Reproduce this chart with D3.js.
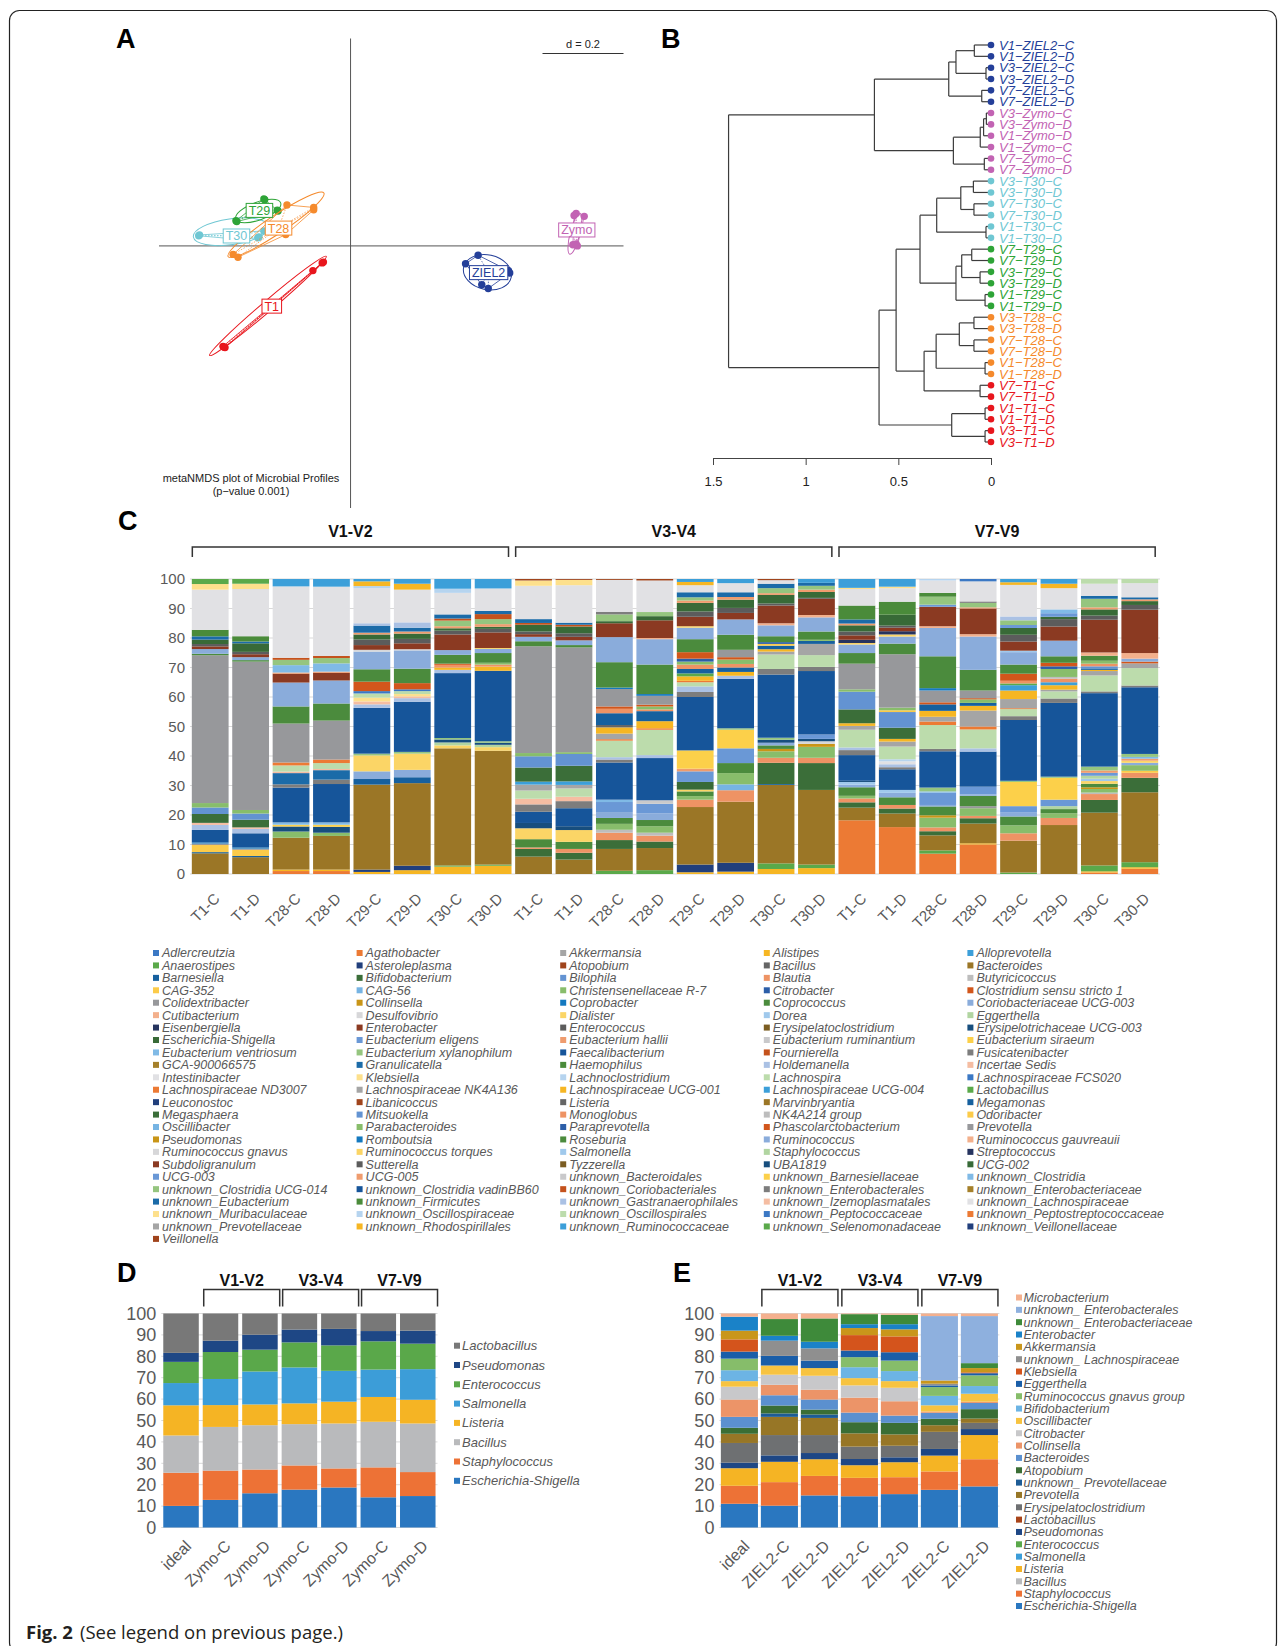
<!DOCTYPE html>
<html>
<head>
<meta charset="utf-8">
<script src="https://cdn.jsdelivr.net/npm/d3@7"></script>
<style>
body { margin: 0; background: #fff; }
text { font-family: "Liberation Sans", Arial, sans-serif; }
</style>
</head>
<body>
<svg id="fig" width="1287" height="1646"></svg>
<script>
//////////////////////////////////////////////////////////////////////////////
// Panel A: metaNMDS coordinates (one row per sample)

var nmdsT29   = [[-0.214,0.116],[-0.212,0.114],[-0.179,0.086],[-0.181,0.088],[-0.283,0.062],[-0.281,0.060]];
var nmdsT30   = [[-0.375,0.025],[-0.373,0.027],[-0.273,0.016],[-0.229,0.020],[-0.214,0.037],[-0.226,0.022]];
var nmdsT28   = [[-0.157,0.101],[-0.091,0.095],[-0.091,0.089],[-0.160,0.028],[-0.290,-0.021],[-0.278,-0.028]];
var nmdsT1    = [[-0.067,-0.040],[-0.093,-0.061],[-0.070,-0.042],[-0.310,-0.251],[-0.315,-0.248],[-0.312,-0.250]];
var nmdsZIEL2 = [[0.315,-0.023],[0.284,-0.044],[0.390,-0.061],[0.393,-0.067],[0.324,-0.096],[0.340,-0.105]];
var nmdsZymo  = [[0.557,0.080],[0.577,0.073],[0.552,0.075],[0.549,0.003],[0.557,0.005],[0.560,0.000]];

// ellipses: centre x, centre y, semi axis a, semi axis b, angle in degrees
var ellT29   = [-0.228, 0.086, 0.059, 0.022, 20];
var ellT30   = [-0.295, 0.035, 0.094, 0.032, 8];
var ellT28   = [-0.184, 0.052, 0.142, 0.022, 33.7];
var ellT1    = [-0.204, -0.148, 0.189, 0.013, 40.4];
var ellZIEL2 = [0.338, -0.065, 0.060, 0.043, -12];
var ellZymo  = [0.554, 0.030, 0.052, 0.012, 76];

var groupColor = {ZIEL2: "#243f99", Zymo: "#c263b3", T30: "#6fc7d3", T29: "#2ea437", T28: "#f58a2c", T1: "#e8161d"};

//////////////////////////////////////////////////////////////////////////////
// Panel B: hierarchical clustering, [height, left, right]

var treeB = [1.416,
  [0.629,
    [0.228, [0.189, [0.09, "V1-ZIEL2-C", "V1-ZIEL2-D"], [0.027, "V3-ZIEL2-C", "V3-ZIEL2-D"]], [0.05, "V7-ZIEL2-C", "V7-ZIEL2-D"]],
    [0.203, [0.058, [0.04, [0.025, "V3-Zymo-C", "V3-Zymo-D"], "V1-Zymo-D"], "V1-Zymo-C"], [0.036, "V7-Zymo-C", "V7-Zymo-D"]]],
  [0.604,
    [0.512,
      [0.383,
        [0.293, [0.163, [0.095, "V3-T30-C", "V3-T30-D"], [0.092, "V7-T30-C", "V7-T30-D"]], [0.027, "V1-T30-C", "V1-T30-D"]],
        [0.189, [0.158, [0.104, "V7-T29-C", "V7-T29-D"], [0.059, "V3-T29-C", "V3-T29-D"]], [0.032, "V1-T29-C", "V1-T29-D"]]],
      [0.361,
        [0.296, [0.171, [0.092, "V3-T28-C", "V3-T28-D"], [0.092, "V7-T28-C", "V7-T28-D"]], [0.032, "V1-T28-C", "V1-T28-D"]],
        [0.059, "V7-T1-C", "V7-T1-D"]]],
    [0.212, [0.032, "V1-T1-C", "V1-T1-D"], [0.032, "V3-T1-C", "V3-T1-D"]]]];
var ticksB = [1.5, 1, 0.5, 0];

//////////////////////////////////////////////////////////////////////////////
// Panel C: relative abundance (%), genus level

var taxaC = [
"Adlercreutzia","Agathobacter","Akkermansia","Alistipes","Alloprevotella",
"Anaerostipes","Asteroleplasma","Atopobium","Bacillus","Bacteroides",
"Barnesiella","Bifidobacterium","Bilophila","Blautia","Butyricicoccus",
"CAG-352","CAG-56","Christensenellaceae R-7","Citrobacter","Clostridium sensu stricto 1",
"Colidextribacter","Collinsella","Coprobacter","Coprococcus","Coriobacteriaceae UCG-003",
"Cutibacterium","Desulfovibrio","Dialister","Dorea","Eggerthella",
"Eisenbergiella","Enterobacter","Enterococcus","Erysipelatoclostridium","Erysipelotrichaceae UCG-003",
"Escherichia-Shigella","Eubacterium eligens","Eubacterium hallii","Eubacterium ruminantium","Eubacterium siraeum",
"Eubacterium ventriosum","Eubacterium xylanophilum","Faecalibacterium","Fournierella","Fusicatenibacter",
"GCA-900066575","Granulicatella","Haemophilus","Holdemanella","Incertae Sedis",
"Intestinibacter","Klebsiella","Lachnoclostridium","Lachnospira","Lachnospiraceae FCS020",
"Lachnospiraceae ND3007","Lachnospiraceae NK4A136","Lachnospiraceae UCG-001","Lachnospiraceae UCG-004","Lactobacillus",
"Leuconostoc","Libanicoccus","Listeria","Marvinbryantia","Megamonas",
"Megasphaera","Mitsuokella","Monoglobus","NK4A214 group","Odoribacter",
"Oscillibacter","Parabacteroides","Paraprevotella","Phascolarctobacterium","Prevotella",
"Pseudomonas","Romboutsia","Roseburia","Ruminococcus","Ruminococcus gauvreauii",
"Ruminococcus gnavus","Ruminococcus torques","Salmonella","Staphylococcus","Streptococcus",
"Subdoligranulum","Sutterella","Tyzzerella","UBA1819","UCG-002",
"UCG-003","UCG-005","unknown_Bacteroidales","unknown_Barnesiellaceae","unknown_Clostridia",
"unknown_Clostridia UCG-014","unknown_Clostridia vadinBB60","unknown_Coriobacteriales","unknown_Enterobacterales","unknown_Enterobacteriaceae",
"unknown_Eubacterium","unknown_Firmicutes","unknown_Gastranaerophilales","unknown_Izemoplasmatales","unknown_Lachnospiraceae",
"unknown_Muribaculaceae","unknown_Oscillospiraceae","unknown_Oscillospirales","unknown_Peptococcaceae","unknown_Peptostreptococcaceae",
"unknown_Prevotellaceae","unknown_Rhodospirillales","unknown_Ruminococcaceae","unknown_Selenomonadaceae","unknown_Veillonellaceae",
"Veillonella"];

// spreadsheet series colours, repeating every 54 series
var paletteC = [
"#3b78c4","#ec7a34","#a5a5a5","#f6b623","#3c9fd9","#5aa94a","#213f7c","#a0441c","#656565","#9b7626",
"#16609e","#3b6e39","#6393d2","#ee9364","#bdbdbd","#fccb49","#76b4e3","#88bd6b","#2c5ea8","#d2561b",
"#97989b","#c99517","#1479bf","#4b8b3d","#8aacdb","#f3b08c","#d7d7d9","#fbd566","#a0c9ec","#b1d5a1",
"#26345f","#8b3a22","#5c5c5c","#7b5d22","#174e7e","#386a37","#6a98d6","#ef9c6e","#c9c9cb","#fcd04a",
"#80bae6","#95c57f","#16559a","#c4521c","#7d7d7d","#a5802a","#1b6ba8","#4a8b3a","#aac1e4","#f5bda2",
"#e1e1e4","#fde08c","#b6d4ef","#bcdcac"];

var samplesC = ["T1-C","T1-D","T28-C","T28-D","T29-C","T29-D","T30-C","T30-D"];
var regions = ["V1-V2","V3-V4","V7-V9"];

var compV1V2 = [
 {"Bacteroides":7.0,"Barnesiella":0.4,"CAG-352":2.4,"Colidextribacter":0.5,"Coprobacter":0.4,"Faecalibacterium":4.2,"Holdemanella":1.7,"Incertae Sedis":0.7,"Megasphaera":3.0,"Mitsuokella":2.2,"Parabacteroides":1.5,"Prevotella":50.0,"Roseburia":0.5,"Ruminococcus":1.6,"Subdoligranulum":0.9,"Sutterella":0.8,"UCG-002":1.5,"unknown_Eubacterium":1.1,"unknown_Firmicutes":2.2,"unknown_Lachnospiraceae":13.6,"unknown_Muribaculaceae":1.9,"unknown_Selenomonadaceae":1.7},
 {"Bacteroides":5.7,"Barnesiella":0.4,"CAG-352":2.1,"Colidextribacter":0.4,"Coprobacter":0.4,"Faecalibacterium":4.8,"Holdemanella":1.5,"Incertae Sedis":0.5,"Megasphaera":2.6,"Mitsuokella":2.1,"Parabacteroides":1.2,"Prevotella":50.3,"Roseburia":0.5,"Ruminococcus":1.0,"Subdoligranulum":1.0,"Sutterella":0.8,"UCG-002":2.9,"unknown_Eubacterium":0.6,"unknown_Firmicutes":1.8,"unknown_Lachnospiraceae":16.0,"unknown_Muribaculaceae":1.8,"unknown_Selenomonadaceae":1.6},
 {"Agathobacter":1.0,"Alistipes":0.5,"Bacteroides":10.8,"Christensenellaceae R-7":2.1,"Erysipelotrichaceae UCG-003":1.7,"Eubacterium siraeum":0.6,"Eubacterium ventriosum":0.8,"Faecalibacterium":11.8,"Fusicatenibacter":1.1,"Granulicatella":3.8,"Incertae Sedis":0.5,"Lachnospira":2.1,"Lachnospiraceae ND3007":1.0,"Prevotella":13.2,"Roseburia":5.8,"Ruminococcus":8.1,"Subdoligranulum":3.0,"UCG-005":0.4,"unknown_Clostridia":2.5,"unknown_Clostridia UCG-014":1.8,"unknown_Coriobacteriales":0.7,"unknown_Lachnospiraceae":24.2,"unknown_Ruminococcaceae":2.5},
 {"Agathobacter":1.0,"Alistipes":0.5,"Bacteroides":11.4,"Christensenellaceae R-7":1.1,"Erysipelotrichaceae UCG-003":2.0,"Eubacterium siraeum":0.7,"Eubacterium ventriosum":0.8,"Faecalibacterium":13.0,"Fusicatenibacter":1.5,"Granulicatella":3.2,"Incertae Sedis":0.4,"Lachnospira":2.0,"Lachnospiraceae ND3007":1.2,"Prevotella":13.2,"Roseburia":5.8,"Ruminococcus":7.8,"Subdoligranulum":2.6,"UCG-005":0.4,"unknown_Clostridia":2.8,"unknown_Clostridia UCG-014":1.8,"unknown_Coriobacteriales":0.7,"unknown_Lachnospiraceae":23.5,"unknown_Ruminococcaceae":2.6},
 {"Alistipes":0.7,"Asteroleplasma":0.8,"Bacteroides":28.8,"Barnesiella":1.9,"Coriobacteriaceae UCG-003":2.6,"Dialister":5.4,"Eubacterium xylanophilum":0.6,"Faecalibacterium":15.5,"Holdemanella":1.2,"Incertae Sedis":1.0,"Klebsiella":1.3,"Lachnospira":1.4,"Lachnospiraceae FCS020":0.8,"Phascolarctobacterium":3.2,"Roseburia":4.2,"Ruminococcus":6.0,"Ruminococcus gnavus":0.6,"Subdoligranulum":1.6,"Sutterella":1.9,"UCG-002":1.7,"UCG-005":0.6,"unknown_Eubacterium":2.4,"unknown_Gastranaerophilales":0.8,"unknown_Lachnospiraceae":11.9,"unknown_Oscillospiraceae":0.7,"unknown_Rhodospirillales":1.6,"unknown_Ruminococcaceae":0.8},
 {"Alistipes":1.3,"Asteroleplasma":1.5,"Bacteroides":28.0,"Barnesiella":2.0,"Coriobacteriaceae UCG-003":2.5,"Dialister":5.5,"Eubacterium xylanophilum":0.6,"Faecalibacterium":17.0,"Holdemanella":1.2,"Incertae Sedis":0.6,"Klebsiella":0.8,"Lachnospira":1.0,"Lachnospiraceae FCS020":0.6,"Phascolarctobacterium":2.1,"Roseburia":4.9,"Ruminococcus":6.2,"Ruminococcus gnavus":0.4,"Subdoligranulum":2.0,"Sutterella":1.5,"UCG-002":1.8,"UCG-005":0.7,"unknown_Eubacterium":1.3,"unknown_Gastranaerophilales":1.8,"unknown_Lachnospiraceae":11.1,"unknown_Rhodospirillales":2.0,"unknown_Ruminococcaceae":1.6},
 {"Alistipes":2.5,"Anaerostipes":0.4,"Bacteroides":39.7,"Dialister":1.0,"Eggerthella":1.0,"Erysipelotrichaceae UCG-003":1.0,"Eubacterium xylanophilum":0.5,"Faecalibacterium":22.0,"Holdemanella":1.1,"Lachnospiraceae UCG-001":0.8,"Monoglobus":0.9,"Phascolarctobacterium":0.4,"Roseburia":3.0,"Ruminococcus":1.6,"Subdoligranulum":5.3,"Sutterella":1.3,"UCG-002":0.8,"UCG-005":0.7,"unknown_Clostridia UCG-014":1.9,"unknown_Coriobacteriales":0.7,"unknown_Eubacterium":1.4,"unknown_Lachnospiraceae":7.3,"unknown_Oscillospiraceae":1.4,"unknown_Ruminococcaceae":3.3},
 {"Alistipes":2.8,"Anaerostipes":0.4,"Bacteroides":38.6,"Dialister":1.2,"Eggerthella":0.8,"Erysipelotrichaceae UCG-003":0.7,"Eubacterium xylanophilum":0.5,"Faecalibacterium":23.9,"Lachnospiraceae UCG-001":1.4,"Monoglobus":0.7,"Parabacteroides":0.6,"Roseburia":3.3,"Ruminococcus":1.4,"Ruminococcus torques":0.3,"Subdoligranulum":5.3,"Sutterella":1.2,"UCG-002":0.7,"UCG-005":0.9,"unknown_Clostridia UCG-014":1.7,"unknown_Coriobacteriales":1.7,"unknown_Eubacterium":1.1,"unknown_Lachnospiraceae":7.6,"unknown_Ruminococcaceae":3.2}
];

var compV3V4 = [
 {"Bacteroides":5.9,"Bifidobacterium":2.6,"Blautia":0.5,"Coprococcus":2.8,"Dialister":3.7,"Erysipelotrichaceae UCG-003":1.8,"Faecalibacterium":3.8,"Fusicatenibacter":2.5,"Incertae Sedis":1.9,"Lachnospira":2.8,"Lachnospiraceae NK4A136":2.0,"Lachnospiraceae UCG-004":1.0,"Megasphaera":4.8,"Mitsuokella":3.8,"Parabacteroides":1.1,"Prevotella":36.2,"Roseburia":1.7,"Ruminococcus":1.5,"Subdoligranulum":0.9,"Sutterella":0.9,"UCG-002":2.3,"unknown_Coriobacteriales":0.6,"unknown_Eubacterium":1.3,"unknown_Lachnospiraceae":11.3,"unknown_Muribaculaceae":1.8,"Veillonella":0.5},
 {"Bacteroides":4.9,"Bifidobacterium":2.3,"Blautia":1.3,"Coprococcus":2.4,"Dialister":4.0,"Erysipelotrichaceae UCG-003":1.3,"Faecalibacterium":6.1,"Fusicatenibacter":2.4,"Incertae Sedis":1.5,"Lachnospira":2.8,"Lachnospiraceae NK4A136":1.2,"Lachnospiraceae UCG-004":1.2,"Megasphaera":5.3,"Mitsuokella":4.0,"Parabacteroides":0.6,"Prevotella":35.5,"Roseburia":0.8,"Ruminococcus":1.6,"Subdoligranulum":1.2,"Sutterella":1.2,"UCG-002":2.3,"unknown_Coriobacteriales":0.6,"unknown_Eubacterium":0.7,"unknown_Lachnospiraceae":12.7,"unknown_Muribaculaceae":1.8,"Veillonella":0.3},
 {"Anaerostipes":1.1,"Bacteroides":7.4,"Bifidobacterium":3.0,"Blautia":2.5,"Butyricicoccus":1.0,"Christensenellaceae R-7":2.0,"Coprococcus":2.0,"Coriobacteriaceae UCG-003":2.0,"Eubacterium eligens":3.4,"Eubacterium ventriosum":0.8,"Faecalibacterium":12.6,"Fusicatenibacter":1.0,"Holdemanella":0.8,"Lachnospira":5.6,"Lachnospiraceae ND3007":0.5,"Lachnospiraceae NK4A136":1.9,"Lachnospiraceae UCG-001":2.1,"Listeria":0.8,"Megamonas":4.0,"Monoglobus":1.5,"Phascolarctobacterium":0.8,"Prevotella":5.9,"Romboutsia":0.5,"Roseburia":8.6,"Ruminococcus":8.5,"Subdoligranulum":4.7,"UCG-002":0.7,"unknown_Clostridia UCG-014":2.3,"unknown_Enterobacterales":0.9,"unknown_Lachnospiraceae":10.8,"Veillonella":0.3},
 {"Anaerostipes":1.3,"Bacteroides":7.5,"Bifidobacterium":2.2,"Blautia":2.0,"Butyricicoccus":1.0,"Christensenellaceae R-7":2.2,"Coprococcus":2.1,"Coriobacteriaceae UCG-003":2.3,"Eubacterium eligens":3.2,"Eubacterium ruminantium":1.2,"Faecalibacterium":14.3,"Holdemanella":1.0,"Lachnospira":8.6,"Lachnospiraceae ND3007":0.5,"Lachnospiraceae UCG-001":2.4,"Megamonas":3.4,"Monoglobus":0.6,"Parabacteroides":1.0,"Phascolarctobacterium":0.6,"Prevotella":3.0,"Romboutsia":0.6,"Roseburia":10.0,"Ruminococcus":8.6,"Ruminococcus gauvreauii":0.4,"Subdoligranulum":6.0,"UCG-002":1.4,"unknown_Clostridia UCG-014":1.4,"unknown_Lachnospiraceae":10.7,"Veillonella":0.5},
 {"Alistipes":0.6,"Asteroleplasma":2.6,"Bacteroides":19.5,"Blautia":2.5,"Christensenellaceae R-7":1.2,"Coprococcus":1.6,"Dialister":0.6,"Escherichia-Shigella":2.6,"Eubacterium eligens":3.6,"Eubacterium hallii":0.9,"Eubacterium siraeum":6.2,"Faecalibacterium":18.1,"Fusicatenibacter":1.7,"Holdemanella":1.9,"Lachnospira":1.4,"Lachnospiraceae ND3007":0.5,"Lachnospiraceae UCG-001":1.5,"Lactobacillus":1.0,"Megamonas":1.5,"Monoglobus":1.5,"Parabacteroides":1.0,"Paraprevotella":1.0,"Phascolarctobacterium":2.2,"Roseburia":4.4,"Ruminococcus":3.9,"Ruminococcus torques":0.5,"Subdoligranulum":3.2,"Sutterella":1.8,"UCG-002":2.9,"UCG-005":0.8,"unknown_Clostridia UCG-014":1.1,"unknown_Eubacterium":1.7,"unknown_Lachnospiraceae":2.4,"unknown_Rhodospirillales":1.1,"unknown_Ruminococcaceae":1.0},
 {"Alistipes":0.8,"Asteroleplasma":3.0,"Bacteroides":20.7,"Blautia":3.9,"CAG-56":2.0,"Christensenellaceae R-7":3.8,"Coprococcus":3.4,"Eubacterium eligens":5.0,"Eubacterium siraeum":6.3,"Eubacterium xylanophilum":0.5,"Faecalibacterium":16.8,"Holdemanella":1.0,"Lachnospiraceae UCG-001":1.3,"Megamonas":1.5,"Monoglobus":1.2,"Parabacteroides":1.5,"Phascolarctobacterium":0.8,"Prevotella":2.5,"Roseburia":5.1,"Ruminococcus":5.2,"Subdoligranulum":2.2,"Sutterella":1.7,"UCG-002":2.8,"UCG-005":0.9,"unknown_Eubacterium":1.6,"unknown_Lachnospiraceae":3.1,"unknown_Ruminococcaceae":1.4},
 {"Alistipes":1.7,"Anaerostipes":1.9,"Bacteroides":26.6,"Barnesiella":0.3,"Bifidobacterium":7.2,"Blautia":1.7,"Christensenellaceae R-7":2.2,"Collinsella":0.8,"Coprococcus":1.2,"Coriobacteriaceae UCG-003":0.9,"Erysipelotrichaceae UCG-003":1.0,"Eubacterium xylanophilum":0.7,"Faecalibacterium":21.4,"Fusicatenibacter":1.9,"Lachnospira":4.9,"Lachnospiraceae NK4A136":1.0,"Lachnospiraceae UCG-001":0.8,"Megamonas":1.2,"Odoribacter":0.6,"Paraprevotella":0.6,"Roseburia":2.0,"Ruminococcus":3.7,"Ruminococcus gauvreauii":0.7,"Subdoligranulum":6.0,"Sutterella":0.7,"UCG-002":2.9,"UCG-005":0.6,"unknown_Clostridia UCG-014":1.7,"unknown_Eubacterium":1.5,"unknown_Lachnospiraceae":1.2,"Veillonella":0.4},
 {"Alistipes":2.0,"Anaerostipes":1.2,"Bacteroides":25.3,"Bifidobacterium":9.1,"Blautia":1.8,"Christensenellaceae R-7":3.7,"Collinsella":1.0,"Desulfovibrio":0.9,"Erysipelotrichaceae UCG-003":0.8,"Eubacterium eligens":1.5,"Faecalibacterium":21.5,"Fusicatenibacter":1.4,"Lachnospira":4.0,"Lachnospiraceae NK4A136":3.8,"Megamonas":1.0,"Parabacteroides":0.4,"Roseburia":2.8,"Ruminococcus":4.8,"Ruminococcus gauvreauii":0.8,"Subdoligranulum":5.5,"Sutterella":0.3,"UCG-002":2.0,"UCG-005":0.8,"unknown_Clostridia UCG-014":1.3,"unknown_Eubacterium":1.0,"unknown_Ruminococcaceae":1.3}
];

var compV7V9 = [
 {"Agathobacter":18.2,"Bacteroides":4.3,"Bifidobacterium":1.8,"Blautia":1.3,"Christensenellaceae R-7":0.9,"Coprococcus":2.9,"Coriobacteriaceae UCG-003":0.9,"Dorea":0.9,"Erysipelotrichaceae UCG-003":0.4,"Faecalibacterium":8.7,"Fusicatenibacter":1.7,"Holdemanella":0.9,"Lachnospira":6.0,"Lachnospiraceae NK4A136":1.3,"Lachnospiraceae UCG-001":0.9,"Megasphaera":4.7,"Mitsuokella":6.0,"Parabacteroides":0.8,"Prevotella":8.7,"Roseburia":3.6,"Ruminococcus":2.9,"Ruminococcus torques":0.5,"Streptococcus":1.1,"Subdoligranulum":1.5,"Sutterella":1.3,"UCG-002":2.1,"UCG-005":0.6,"unknown_Eubacterium":1.4,"unknown_Firmicutes":4.7,"unknown_Lachnospiraceae":5.6,"unknown_Muribaculaceae":0.4,"unknown_Ruminococcaceae":3.0},
 {"Agathobacter":15.9,"Bacteroides":4.6,"Bifidobacterium":1.7,"Blautia":1.2,"Coprococcus":2.6,"Coriobacteriaceae UCG-003":1.5,"Dorea":1.0,"Faecalibacterium":7.0,"Fusicatenibacter":0.7,"Holdemanella":1.0,"Intestinibacter":1.0,"Lachnoclostridium":0.7,"Lachnospira":4.3,"Lachnospiraceae NK4A136":1.7,"Lachnospiraceae UCG-001":0.9,"Megasphaera":3.8,"Mitsuokella":5.3,"Odoribacter":0.6,"Parabacteroides":0.9,"Prevotella":18.1,"Roseburia":3.6,"Ruminococcus":2.4,"Ruminococcus torques":0.7,"Streptococcus":1.1,"Subdoligranulum":1.2,"Sutterella":0.7,"UCG-002":3.7,"unknown_Firmicutes":4.4,"unknown_Lachnospiraceae":4.6,"unknown_Muribaculaceae":0.5,"unknown_Ruminococcaceae":2.6},
 {"Agathobacter":6.9,"Anaerostipes":1.1,"Bacteroides":5.1,"Bifidobacterium":1.4,"Blautia":1.3,"Christensenellaceae R-7":3.3,"Collinsella":0.8,"Coprococcus":3.0,"Coriobacteriaceae UCG-003":0.5,"Eubacterium eligens":4.2,"Eubacterium ventriosum":0.4,"Eubacterium xylanophilum":1.3,"Faecalibacterium":12.3,"Fusicatenibacter":0.8,"Lachnospira":8.1,"Lachnospiraceae ND3007":1.2,"Lachnospiraceae NK4A136":1.6,"Lachnospiraceae UCG-001":2.0,"Megamonas":2.2,"Phascolarctobacterium":0.7,"Prevotella":4.0,"Romboutsia":0.8,"Roseburia":10.8,"Ruminococcus":9.6,"Ruminococcus gauvreauii":0.6,"Subdoligranulum":6.6,"UCG-003":0.7,"unknown_Clostridia UCG-014":2.7,"unknown_Firmicutes":1.3,"unknown_Lachnospiraceae":4.2,"unknown_Oscillospiraceae":0.5},
 {"Agathobacter":10.0,"Alistipes":0.4,"Bacteroides":6.7,"Bifidobacterium":1.8,"Blautia":0.8,"Christensenellaceae R-7":2.6,"Colidextribacter":0.7,"Coprococcus":3.5,"Coriobacteriaceae UCG-003":0.5,"Eubacterium eligens":2.6,"Faecalibacterium":11.9,"Holdemanella":1.1,"Lachnospira":6.4,"Lachnospiraceae ND3007":1.0,"Lachnospiraceae NK4A136":5.4,"Lachnospiraceae UCG-001":1.6,"Megamonas":1.0,"Parabacteroides":1.2,"Phascolarctobacterium":0.4,"Prevotella":2.6,"Roseburia":7.0,"Ruminococcus":11.3,"Ruminococcus gauvreauii":0.8,"Subdoligranulum":8.7,"UCG-005":0.4,"unknown_Clostridia UCG-014":1.5,"unknown_Enterobacterales":0.5,"unknown_Lachnospiraceae":6.8,"unknown_Peptococcaceae":0.8},
 {"Anaerostipes":0.5,"Bacteroides":10.8,"Blautia":2.5,"Christensenellaceae R-7":2.7,"Coprococcus":3.0,"Coriobacteriaceae UCG-003":1.3,"Eubacterium eligens":2.2,"Eubacterium siraeum":8.2,"Eubacterium xylanophilum":0.4,"Faecalibacterium":20.6,"Fusicatenibacter":1.3,"Lachnospira":2.4,"Lachnospiraceae ND3007":0.3,"Lachnospiraceae NK4A136":3.1,"Lachnospiraceae UCG-001":2.9,"Lachnospiraceae UCG-004":1.8,"Lactobacillus":0.6,"Monoglobus":0.9,"Phascolarctobacterium":2.4,"Roseburia":3.1,"Ruminococcus":4.2,"Salmonella":0.5,"Subdoligranulum":3.1,"Sutterella":2.3,"UCG-002":2.3,"UCG-003":1.0,"unknown_Clostridia UCG-014":1.6,"unknown_Gastranaerophilales":1.3,"unknown_Lachnospiraceae":10.7,"unknown_Rhodospirillales":0.9,"unknown_Ruminococcaceae":1.1},
 {"Bacteroides":16.6,"Blautia":2.4,"Christensenellaceae R-7":1.6,"Coprococcus":1.4,"Eggerthella":1.0,"Eubacterium eligens":2.2,"Eubacterium siraeum":7.4,"Eubacterium xylanophilum":0.4,"Faecalibacterium":25.0,"Fusicatenibacter":1.5,"Lachnospira":2.4,"Lachnospiraceae NK4A136":0.6,"Lachnospiraceae UCG-001":1.5,"Lachnospiraceae UCG-004":1.0,"Monoglobus":1.2,"NK4A214 group":0.6,"Parabacteroides":2.7,"Paraprevotella":0.9,"Phascolarctobacterium":1.2,"Roseburia":2.2,"Ruminococcus":5.3,"Subdoligranulum":4.8,"Sutterella":2.5,"UCG-002":0.8,"UCG-003":1.2,"unknown_Clostridia":1.3,"unknown_Lachnospiraceae":7.2,"unknown_Rhodospirillales":1.5,"unknown_Ruminococcaceae":1.6},
 {"Agathobacter":0.5,"Alistipes":0.4,"Anaerostipes":2.0,"Bacteroides":17.9,"Bifidobacterium":4.3,"Blautia":2.0,"Butyricicoccus":0.5,"Christensenellaceae R-7":1.2,"Collinsella":0.6,"Coprococcus":1.2,"Dialister":0.9,"Dorea":0.8,"Eggerthella":1.0,"Eubacterium eligens":1.0,"Eubacterium hallii":0.8,"Eubacterium xylanophilum":1.3,"Faecalibacterium":24.9,"Fusicatenibacter":0.6,"Lachnospira":5.4,"Lachnospiraceae NK4A136":1.5,"Lachnospiraceae UCG-001":0.4,"Megamonas":0.5,"Mitsuokella":0.7,"Monoglobus":0.9,"Parabacteroides":1.0,"Roseburia":1.7,"Ruminococcus gauvreauii":1.1,"Subdoligranulum":11.1,"Sutterella":1.4,"UCG-002":2.1,"UCG-005":0.7,"unknown_Clostridia UCG-014":2.9,"unknown_Eubacterium":1.0,"unknown_Lachnospiraceae":4.1,"unknown_Oscillospirales":1.6},
 {"Agathobacter":1.8,"Alistipes":0.5,"Anaerostipes":1.7,"Bacteroides":23.7,"Bifidobacterium":4.9,"Blautia":1.7,"CAG-352":0.7,"Christensenellaceae R-7":1.9,"Coriobacteriaceae UCG-003":0.8,"Dialister":0.7,"Eubacterium hallii":0.7,"Eubacterium ventriosum":0.6,"Eubacterium xylanophilum":1.0,"Faecalibacterium":22.6,"Fusicatenibacter":0.6,"Lachnospira":5.9,"Lachnospiraceae NK4A136":1.6,"Phascolarctobacterium":0.6,"Ruminococcus":1.0,"Ruminococcus gauvreauii":1.9,"Subdoligranulum":14.7,"Sutterella":1.6,"UCG-002":1.3,"UCG-005":0.6,"unknown_Eubacterium":0.7,"unknown_Lachnospiraceae":4.8,"unknown_Oscillospirales":1.4}
];

//////////////////////////////////////////////////////////////////////////////
// Panel D: Zymo mock community (%), stacked bottom to top

var taxaD = ["Escherichia-Shigella","Staphylococcus","Bacillus","Listeria","Salmonella","Enterococcus","Pseudomonas","Lactobacillus"];
var colorsD = ["#2a77c0","#ed7236","#b9babc","#f5b424","#3c9dd8","#5aa84a","#1e4785","#787878"];
var labelsD = ["ideal","Zymo-C","Zymo-D","Zymo-C","Zymo-D","Zymo-C","Zymo-D"];
var zymoIdeal = [10.1,15.5,17.4,14.1,10.4,9.9,4.2,18.4];
var zymoV1V2 = [[12.9,13.7,20.4,10.2,12.2,12.6,5.3,12.7],[16.0,11.1,20.7,9.7,15.4,10.2,7.0,9.9]];
var zymoV3V4 = [[17.7,11.3,19.3,9.7,16.8,11.7,6.0,7.5],[18.7,8.9,21.0,10.2,14.4,11.9,7.7,7.2]];
var zymoV7V9 = [[14.1,14.0,21.3,11.6,12.8,13.2,4.8,8.2],[14.7,11.2,22.7,11.1,14.3,11.9,6.1,8.0]];

//////////////////////////////////////////////////////////////////////////////
// Panel E: ZIEL2 mock community (%), stacked bottom to top

var taxaE = ["Escherichia-Shigella","Staphylococcus","Bacillus","Listeria","Salmonella","Enterococcus","Pseudomonas","Lactobacillus",
  "Erysipelatoclostridium","Prevotella","unknown_ Prevotellaceae","Atopobium","Bacteroides","Collinsella","Citrobacter","Oscillibacter",
  "Bifidobacterium","Ruminococcus gnavus group","Eggerthella","Klebsiella","unknown_ Lachnospiraceae","Akkermansia","Enterobacter",
  "unknown_ Enterobacteriaceae","unknown_ Enterobacterales","Microbacterium"];
var colorsE = ["#2a77c0","#ed7236","#b9babc","#f5b424","#3c9dd8","#5aa84a","#1e4785","#a8441a",
  "#6e7072","#977626","#1d5c96","#3a6e35","#5b90cf","#ec9468","#c8c8ca","#f7c340",
  "#6cb4e4","#86bd6a","#1a5ea8","#d4541c","#8f8f8f","#c9961b","#1a82c8",
  "#3e8a3a","#8eb0de","#f4b08e"];
var labelsE = ["ideal","ZIEL2-C","ZIEL2-D","ZIEL2-C","ZIEL2-D","ZIEL2-C","ZIEL2-D"];
var zielIdeal = {"Escherichia-Shigella":11.1,"Staphylococcus":8.4,"Listeria":8.2,"Pseudomonas":2.6,"Erysipelatoclostridium":9.2,"Prevotella":4.3,"Atopobium":2.8,"Bacteroides":5.1,"Collinsella":8.1,"Citrobacter":6.0,"Oscillibacter":2.6,"Bifidobacterium":5.1,"Ruminococcus gnavus group":5.4,"Eggerthella":3.3,"Klebsiella":5.7,"Akkermansia":4.1,"Enterobacter":6.5,"Microbacterium":1.5};
var zielV1V2 = [
 {"Escherichia-Shigella":10.2,"Staphylococcus":11.0,"Listeria":9.5,"Pseudomonas":3.0,"Erysipelatoclostridium":9.5,"Prevotella":8.5,"unknown_ Prevotellaceae":1.6,"Atopobium":3.7,"Bacteroides":4.8,"Collinsella":4.9,"Citrobacter":4.7,"Oscillibacter":4.3,"Eggerthella":4.5,"unknown_ Lachnospiraceae":7.1,"Enterobacter":2.3,"unknown_ Enterobacteriaceae":7.8,"Microbacterium":2.6},
 {"Escherichia-Shigella":15.0,"Staphylococcus":9.1,"Listeria":7.8,"Pseudomonas":2.9,"Erysipelatoclostridium":8.4,"Prevotella":8.0,"unknown_ Prevotellaceae":1.6,"Atopobium":2.3,"Bacteroides":4.7,"Collinsella":4.6,"Citrobacter":6.5,"Oscillibacter":3.6,"Eggerthella":3.5,"unknown_ Lachnospiraceae":5.7,"Enterobacter":3.1,"unknown_ Enterobacteriaceae":10.9,"Microbacterium":2.3}];
var zielV3V4 = [
 {"Escherichia-Shigella":14.6,"Staphylococcus":8.6,"Listeria":5.9,"Pseudomonas":2.9,"Erysipelatoclostridium":5.8,"Prevotella":6.2,"Atopobium":5.2,"Bacteroides":4.5,"Collinsella":7.0,"Citrobacter":5.7,"Oscillibacter":3.4,"Bifidobacterium":5.1,"Ruminococcus gnavus group":4.7,"Eggerthella":3.1,"Klebsiella":7.2,"Akkermansia":3.3,"Enterobacter":1.8,"unknown_ Enterobacteriaceae":4.7,"Microbacterium":0.3},
 {"Escherichia-Shigella":15.6,"Staphylococcus":7.9,"Listeria":7.0,"Pseudomonas":2.3,"Erysipelatoclostridium":5.4,"Prevotella":5.3,"Atopobium":5.4,"Bacteroides":3.4,"Collinsella":6.7,"Citrobacter":6.3,"Oscillibacter":3.1,"Bifidobacterium":4.7,"Ruminococcus gnavus group":4.9,"Eggerthella":3.9,"Klebsiella":7.4,"Akkermansia":3.3,"Enterobacter":2.4,"unknown_ Enterobacteriaceae":4.4,"Microbacterium":0.6}];
var zielV7V9 = [
 {"Escherichia-Shigella":17.6,"Staphylococcus":8.6,"Listeria":7.4,"Pseudomonas":3.1,"Erysipelatoclostridium":8.0,"Prevotella":3.1,"Atopobium":3.0,"Bacteroides":2.8,"Collinsella":0.6,"Oscillibacter":2.9,"Bifidobacterium":4.4,"Ruminococcus gnavus group":4.1,"Eggerthella":0.8,"unknown_ Lachnospiraceae":0.8,"Akkermansia":1.5,"unknown_ Enterobacterales":30.1,"Microbacterium":1.2},
 {"Escherichia-Shigella":19.2,"Staphylococcus":12.7,"Listeria":11.3,"Pseudomonas":2.8,"Erysipelatoclostridium":2.9,"Prevotella":2.0,"Atopobium":4.4,"Bacteroides":2.9,"Collinsella":0.6,"Oscillibacter":3.7,"Bifidobacterium":3.6,"Ruminococcus gnavus group":5.0,"Eggerthella":1.0,"Klebsiella":0.4,"Akkermansia":2.0,"unknown_ Enterobacteriaceae":2.3,"unknown_ Enterobacterales":22.0,"Microbacterium":1.2}];

//////////////////////////////////////////////////////////////////////////////

var svg = d3.select("#fig");
var grey = "#595959";

// figure frame and caption
svg.append("rect")
    .attr("x", 9.5).attr("y", 10.5)
    .attr("width", 1267).attr("height", 1642)
    .attr("rx", 10)
    .attr("fill", "none")
    .attr("stroke", "#222")
    .attr("stroke-width", 1.2);

var cap = svg.append("text")
    .attr("x", 26).attr("y", 1639)
    .style("font-family", '"Open Sans", sans-serif')
    .attr("font-size", 18.5)
    .attr("fill", "#231f20");
cap.append("tspan").attr("font-weight", "bold").text("Fig. 2");
cap.append("tspan").attr("dx", 7).text("(See legend on previous page.)");

svg.selectAll("text.panel")
    .data([["A",116,48],["B",661,48],["C",118,530],["D",117,1282],["E",673,1282]])
    .enter()
    .append("text")
    .attr("class", "panel")
    .attr("x", function(d) { return d[1]; })
    .attr("y", function(d) { return d[2]; })
    .attr("font-size", 27)
    .attr("font-weight", "bold")
    .text(function(d) { return d[0]; });

//////////////////////////////////////////////////////////////////////////////
// Panel A

var xA = d3.scaleLinear().domain([-0.473, 0.674]).range([159, 623.5]);
var yA = d3.scaleLinear().domain([-0.647, 0.512]).range([508, 38.5]);
var gA = svg.append("g");

gA.append("line")
    .attr("x1", xA(0)).attr("x2", xA(0))
    .attr("y1", yA(0.512)).attr("y2", yA(-0.647))
    .attr("stroke", "#555").attr("stroke-width", 1);
gA.append("line")
    .attr("x1", xA(-0.473)).attr("x2", xA(0.674))
    .attr("y1", yA(0)).attr("y2", yA(0))
    .attr("stroke", "#555").attr("stroke-width", 1);

gA.append("line")
    .attr("x1", xA(0.474)).attr("x2", xA(0.674))
    .attr("y1", 53.5).attr("y2", 53.5)
    .attr("stroke", "#333").attr("stroke-width", 1);
gA.append("text")
    .attr("x", xA(0.574)).attr("y", 48)
    .attr("text-anchor", "middle")
    .attr("font-size", 11)
    .attr("fill", "#222")
    .text("d = 0.2");

gA.append("text")
    .attr("x", 251).attr("y", 482)
    .attr("text-anchor", "middle").attr("font-size", 11).attr("fill", "#222")
    .text("metaNMDS plot of Microbial Profiles");
gA.append("text")
    .attr("x", 251).attr("y", 495)
    .attr("text-anchor", "middle").attr("font-size", 11).attr("fill", "#222")
    .text("(p\u2212value 0.001)");

var groupsA = [
    {name: "T30", pts: nmdsT30, ell: ellT30},
    {name: "T29", pts: nmdsT29, ell: ellT29},
    {name: "T28", pts: nmdsT28, ell: ellT28},
    {name: "T1", pts: nmdsT1, ell: ellT1},
    {name: "ZIEL2", pts: nmdsZIEL2, ell: ellZIEL2},
    {name: "Zymo", pts: nmdsZymo, ell: ellZymo}
];
var unitA = xA(1) - xA(0);

groupsA.forEach(function(g) {
    var col = groupColor[g.name];
    var e = g.ell;
    var cx = d3.mean(g.pts, function(p) { return p[0]; });
    var cy = d3.mean(g.pts, function(p) { return p[1]; });
    g.centre = [cx, cy];

    gA.append("ellipse")
        .attr("transform", "translate(" + xA(e[0]) + "," + yA(e[1]) + ") rotate(" + (-e[4]) + ")")
        .attr("rx", e[2] * unitA)
        .attr("ry", e[3] * unitA)
        .attr("fill", "none")
        .attr("stroke", col)
        .attr("stroke-width", 1);

    var hull = d3.polygonHull(g.pts.map(function(p) { return [xA(p[0]), yA(p[1])]; }));
    if (hull) {
        gA.append("path")
            .attr("d", "M" + hull.join("L") + "Z")
            .attr("fill", "none")
            .attr("stroke", col)
            .attr("stroke-width", 0.8);
    }

    gA.append("g")
        .selectAll("line")
        .data(g.pts)
        .enter()
        .append("line")
        .attr("x1", xA(cx)).attr("y1", yA(cy))
        .attr("x2", function(p) { return xA(p[0]); })
        .attr("y2", function(p) { return yA(p[1]); })
        .attr("stroke", col)
        .attr("stroke-width", 0.7)
        .attr("stroke-dasharray", "1.5,1.5");

    gA.append("g")
        .selectAll("circle")
        .data(g.pts)
        .enter()
        .append("circle")
        .attr("cx", function(p) { return xA(p[0]); })
        .attr("cy", function(p) { return yA(p[1]); })
        .attr("r", 3.7)
        .attr("fill", col);
});

groupsA.forEach(function(g) {
    var col = groupColor[g.name];
    var lg = gA.append("g")
        .attr("transform", "translate(" + xA(g.centre[0]) + "," + yA(g.centre[1]) + ")");
    var t = lg.append("text")
        .attr("text-anchor", "middle")
        .attr("dy", "0.36em")
        .attr("font-size", 12.5)
        .attr("fill", col)
        .text(g.name);
    var w = t.node().getComputedTextLength();
    lg.insert("rect", "text")
        .attr("x", -w / 2 - 2.5).attr("y", -7)
        .attr("width", w + 5).attr("height", 14)
        .attr("fill", "#fff")
        .attr("stroke", col)
        .attr("stroke-width", 1);
});

//////////////////////////////////////////////////////////////////////////////
// Panel B

var rootB = d3.hierarchy(treeB, function(d) { return Array.isArray(d) ? d.slice(1) : null; });
var leavesB = rootB.leaves().map(function(n) { return n.data; });
var xB = d3.scaleLinear().domain([1.5, 0]).range([713, 991]);
var yB = d3.scalePoint().domain(leavesB).range([45, 442]);

function heightB(n) { return Array.isArray(n.data) ? n.data[0] : 0; }
function leafColor(name) {
    var keys = ["ZIEL2", "Zymo", "T30", "T29", "T28", "T1"];
    for (var i = 0; i < keys.length; ++i) {
        if (name.indexOf("-" + keys[i] + "-") >= 0) return groupColor[keys[i]];
    }
    return "#000";
}

rootB.eachAfter(function(n) {
    n.yy = n.children ? (n.children[0].yy + n.children[n.children.length - 1].yy) / 2 : yB(n.data);
});

var gB = svg.append("g");
rootB.each(function(n) {
    if (!n.children) return;
    var hx = xB(heightB(n));
    gB.append("line")
        .attr("x1", hx).attr("x2", hx)
        .attr("y1", n.children[0].yy).attr("y2", n.children[n.children.length - 1].yy)
        .attr("stroke", "#3c3c3c").attr("stroke-width", 1.2);
    n.children.forEach(function(c) {
        gB.append("line")
            .attr("x1", hx).attr("x2", xB(heightB(c)))
            .attr("y1", c.yy).attr("y2", c.yy)
            .attr("stroke", "#3c3c3c").attr("stroke-width", 1.2);
    });
});

gB.selectAll("circle")
    .data(leavesB)
    .enter()
    .append("circle")
    .attr("cx", xB(0))
    .attr("cy", function(d) { return yB(d); })
    .attr("r", 3.3)
    .attr("fill", leafColor);

gB.selectAll("text.leaf")
    .data(leavesB)
    .enter()
    .append("text")
    .attr("class", "leaf")
    .attr("x", xB(0) + 8)
    .attr("y", function(d) { return yB(d); })
    .attr("dy", "0.36em")
    .attr("font-size", 13)
    .attr("font-style", "italic")
    .attr("fill", leafColor)
    .text(function(d) { return d.replace(/-/g, "\u2212"); });

var axB = svg.append("g")
    .attr("transform", "translate(0,458)")
    .call(d3.axisBottom(xB).tickValues(ticksB).tickFormat(d3.format("")).tickSize(7).tickSizeOuter(0).tickPadding(12));
axB.selectAll("text").attr("font-size", 13).attr("fill", "#222").style("font-family", '"Liberation Sans", Arial, sans-serif');
axB.selectAll("line, path").attr("stroke", "#444");

//////////////////////////////////////////////////////////////////////////////
// Shared helpers for the stacked 100% charts

function drawGrid(g, x0, x1, y) {
    g.append("g")
        .selectAll("line")
        .data(d3.range(0, 101, 10))
        .enter()
        .append("line")
        .attr("x1", x0).attr("x2", x1)
        .attr("y1", function(d) { return y(d); })
        .attr("y2", function(d) { return y(d); })
        .attr("stroke", "#d9d9d9")
        .attr("stroke-width", 1);
}

function drawYAxis(g, xPos, y, size) {
    var ax = g.append("g")
        .attr("transform", "translate(" + xPos + ",0)")
        .call(d3.axisLeft(y).tickValues(d3.range(0, 101, 10)).tickSize(0).tickPadding(5));
    ax.select(".domain").remove();
    ax.selectAll("text")
        .attr("font-size", size)
        .attr("fill", grey)
        .style("font-family", '"Liberation Sans", Arial, sans-serif');
}

function drawStack(g, rows, keys, color, x, y) {
    var series = d3.stack()
        .keys(keys)
        .value(function(d, k) { return d[k] || 0; })
        .offset(d3.stackOffsetExpand)(rows);
    g.append("g")
        .selectAll("g")
        .data(series)
        .enter()
        .append("g")
        .attr("fill", function(s) { return color(s.key); })
        .selectAll("rect")
        .data(function(s) { return s.filter(function(d) { return d[1] > d[0]; }); })
        .enter()
        .append("rect")
        .attr("x", function(d) { return x(d.data.idx); })
        .attr("width", x.bandwidth())
        .attr("y", function(d) { return y(d[1] * 100); })
        .attr("height", function(d) { return y(d[0] * 100) - y(d[1] * 100); });
}

function drawBrackets(g, x, spans, yTop, yBot, yText, dx0, dx1) {
    spans.forEach(function(s, i) {
        var a = x(s[0]) + dx0;
        var b = x(s[1]) + x.bandwidth() + dx1;
        g.append("path")
            .attr("d", "M" + a + "," + yBot + "V" + yTop + "H" + b + "V" + yBot)
            .attr("fill", "none")
            .attr("stroke", "#333")
            .attr("stroke-width", 1.5);
        g.append("text")
            .attr("x", (a + b) / 2).attr("y", yText)
            .attr("text-anchor", "middle")
            .attr("font-size", 16)
            .attr("font-weight", "bold")
            .attr("fill", "#111")
            .text(regions[i]);
    });
}

function drawXLabels(g, x, labels, yPos, size) {
    g.append("g")
        .selectAll("text")
        .data(labels)
        .enter()
        .append("text")
        .attr("transform", function(d, i) {
            return "translate(" + (x(i) + x.bandwidth() / 2 + 1) + "," + yPos + ") rotate(-45)";
        })
        .attr("text-anchor", "end")
        .attr("dy", "0.9em")
        .attr("font-size", size)
        .attr("fill", grey)
        .text(function(d) { return d; });
}

//////////////////////////////////////////////////////////////////////////////
// Panel C

var colorC = d3.scaleOrdinal()
    .domain(taxaC)
    .range(taxaC.map(function(t, i) { return paletteC[i % paletteC.length]; }));

var rowsC = [];
[compV1V2, compV3V4, compV7V9].forEach(function(arr, r) {
    arr.forEach(function(v, s) {
        rowsC.push(Object.assign({idx: r * samplesC.length + s}, v));
    });
});

var xC = d3.scaleBand().domain(d3.range(rowsC.length)).range([190, 1160]).paddingInner(0.09).paddingOuter(0.045);
var yC = d3.scaleLinear().domain([0, 100]).range([874, 579]);
var gC = svg.append("g");

drawGrid(gC, 190, 1160, yC);
drawYAxis(gC, 190, yC, 15);
drawStack(gC, rowsC, taxaC, colorC, xC, yC);
drawBrackets(gC, xC, [[0, 7], [8, 15], [16, 23]], 547, 557, 537, 0.5, -3);
drawXLabels(gC, xC, rowsC.map(function(d, i) { return samplesC[i % samplesC.length]; }), 890, 15);

var legC = gC.append("g")
    .selectAll("g")
    .data(taxaC)
    .enter()
    .append("g")
    .attr("transform", function(d, i) {
        return "translate(" + (153 + (i % 5) * 203.6) + "," + (953 + Math.floor(i / 5) * 12.43) + ")";
    });
legC.append("rect").attr("x", 0).attr("y", -3).attr("width", 6).attr("height", 6).attr("fill", colorC);
legC.append("text")
    .attr("x", 9).attr("dy", "0.35em")
    .attr("font-size", 12.5)
    .attr("font-style", "italic")
    .attr("fill", grey)
    .text(function(d) { return d; });

//////////////////////////////////////////////////////////////////////////////
// Panel D

var rowsD = [zymoIdeal, zymoV1V2[0], zymoV1V2[1], zymoV3V4[0], zymoV3V4[1], zymoV7V9[0], zymoV7V9[1]]
    .map(function(v, i) {
        var o = {idx: i};
        taxaD.forEach(function(k, j) { o[k] = v[j]; });
        return o;
    });
var colorD = d3.scaleOrdinal().domain(taxaD).range(colorsD);
var xD = d3.scaleBand().domain(d3.range(rowsD.length)).range([161.3, 437.5]).paddingInner(0.1).paddingOuter(0.05);
var yD = d3.scaleLinear().domain([0, 100]).range([1527.5, 1313.5]);
var gD = svg.append("g");

drawGrid(gD, 161.3, 437.5, yD);
drawYAxis(gD, 161.3, yD, 18);
drawStack(gD, rowsD, taxaD, colorD, xD, yD);
drawBrackets(gD, xD, [[1, 2], [3, 4], [5, 6]], 1289.5, 1306.5, 1286, 1, 2);
drawXLabels(gD, xD, labelsD, 1537, 16);

var legD = gD.append("g")
    .selectAll("g")
    .data(taxaD.slice().reverse())
    .enter()
    .append("g")
    .attr("transform", function(d, i) { return "translate(454," + (1345.7 + i * 19.3) + ")"; });
legD.append("rect").attr("x", 0).attr("y", -3).attr("width", 6).attr("height", 6).attr("fill", colorD);
legD.append("text")
    .attr("x", 8).attr("dy", "0.35em")
    .attr("font-size", 13)
    .attr("font-style", "italic")
    .attr("fill", grey)
    .text(function(d) { return d; });

//////////////////////////////////////////////////////////////////////////////
// Panel E

var rowsE = [zielIdeal, zielV1V2[0], zielV1V2[1], zielV3V4[0], zielV3V4[1], zielV7V9[0], zielV7V9[1]]
    .map(function(v, i) { return Object.assign({idx: i}, v); });
var colorE = d3.scaleOrdinal().domain(taxaE).range(colorsE);
var xE = d3.scaleBand().domain(d3.range(rowsE.length)).range([719.4, 999.4]).paddingInner(0.073).paddingOuter(0.0365);
var yE = d3.scaleLinear().domain([0, 100]).range([1527.5, 1313.5]);
var gE = svg.append("g");

drawGrid(gE, 719.4, 999.4, yE);
drawYAxis(gE, 719.4, yE, 18);
drawStack(gE, rowsE, taxaE, colorE, xE, yE);
drawBrackets(gE, xE, [[1, 2], [3, 4], [5, 6]], 1289.5, 1306.5, 1286, 1, 0);
drawXLabels(gE, xE, labelsE, 1537, 16);

var legE = gE.append("g")
    .selectAll("g")
    .data(taxaE.slice().reverse())
    .enter()
    .append("g")
    .attr("transform", function(d, i) { return "translate(1016," + (1297.5 + i * 12.34) + ")"; });
legE.append("rect").attr("x", 0).attr("y", -3).attr("width", 6).attr("height", 6).attr("fill", colorE);
legE.append("text")
    .attr("x", 7.5).attr("dy", "0.35em")
    .attr("font-size", 12.5)
    .attr("font-style", "italic")
    .attr("fill", grey)
    .text(function(d) { return d; });
</script>
</body>
</html>
